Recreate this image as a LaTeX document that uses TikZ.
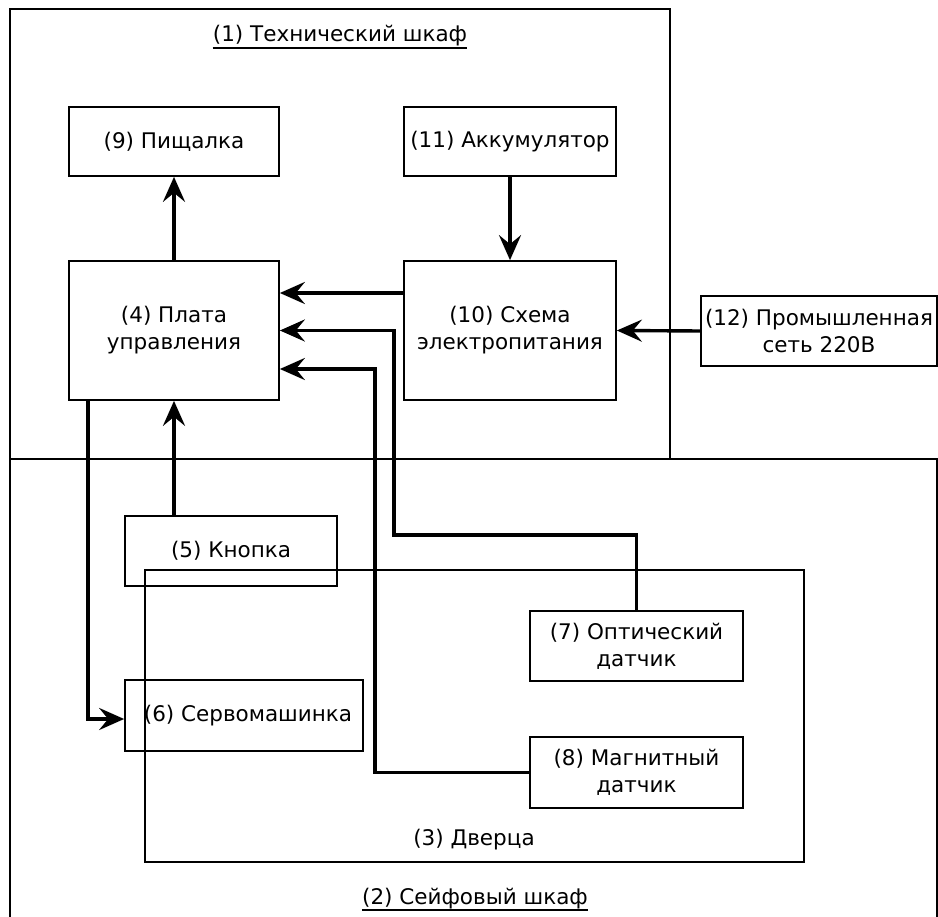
\documentclass[tikz,border=0pt]{standalone}
\usepackage{fontspec}
\setmainfont{DejaVu Sans}
\usetikzlibrary{arrows.meta}
\begin{document}
\begin{tikzpicture}[x=1pt,y=-1pt,
  txt/.style={inner sep=0pt, align=center, font=\fontsize{21.5}{27}\selectfont},
  box/.style={txt, draw, line width=1.7pt},
  frame/.style={draw, line width=1.4pt, inner sep=0pt},
  arr/.style={line width=3.4pt, -{Stealth[length=25pt,width=22pt,inset=9pt]}},
  uline/.style={line width=1.6pt}]
\useasboundingbox (0,0) rectangle (938,917);
% containers
\node[frame, minimum width=660pt, minimum height=450pt] (c1) at (340,234) {};
\node[frame, minimum width=927pt, minimum height=480pt] (c2) at (473.5,699) {};
\node[frame, line width=1.6pt, minimum width=659pt, minimum height=292pt] (c3) at (474.5,716) {};
% container labels
\node[txt, anchor=base] (l1) at (340,42) {(1) Технический шкаф};
\draw[uline] ([yshift=-6pt]l1.base west) -- ([yshift=-6pt]l1.base east);
\node[txt, anchor=base] (l2) at (475,904) {(2) Сейфовый шкаф};
\draw[uline] ([yshift=-6pt]l2.base west) -- ([yshift=-6pt]l2.base east);
\node[txt, anchor=base] (l3) at (474,845) {(3) Дверца};
% blocks
\node[box, minimum width=210pt, minimum height=69pt] (n9) at (174,141.5) {(9) Пищалка};
\node[box, minimum width=212pt, minimum height=69pt] (n11) at (510,141.5) {(11) Аккумулятор};
\node[box, minimum width=210pt, minimum height=139pt] (n4) at (174,330.5) {(4) Плата\\управления};
\node[box, minimum width=212pt, minimum height=139pt] (n10) at (510,330.5) {(10) Схема\\электропитания};
\node[box, minimum width=236pt, minimum height=70pt] (n12) at (819,331) {(12) Промышленная\\сеть 220В};
\node[box, minimum width=212pt, minimum height=70pt] (n5) at (231,551) {(5) Кнопка};
\node[box, minimum width=238pt, minimum height=71pt] (n6) at (244,715.5) {\hspace*{8pt}(6) Сервомашинка};
\node[box, minimum width=213pt, minimum height=70pt] (n7) at (636.5,646) {(7) Оптический\\датчик};
\node[box, minimum width=213pt, minimum height=71pt] (n8) at (636.5,772.5) {(8) Магнитный\\датчик};
% connectors
\draw[arr] (n4.north) -- (n9.south);
\draw[arr] (n11.south) -- (n10.north);
\draw[arr] (n10.west |- 0,293) -- (n4.east |- 0,293);
\draw[arr] (n12.west) -- (n10.east);
\draw[arr] (n7.north) |- (394,535) |- (n4.east);
\draw[arr] (n8.west) -| (375,369) -- (n4.east |- 0,369);
\draw[arr] (n4.south |- n5.north) -- (n4.south);
\draw[arr] (n4.south -| 88,0) |- (n6.west |- 0,719);
\end{tikzpicture}
\end{document}
